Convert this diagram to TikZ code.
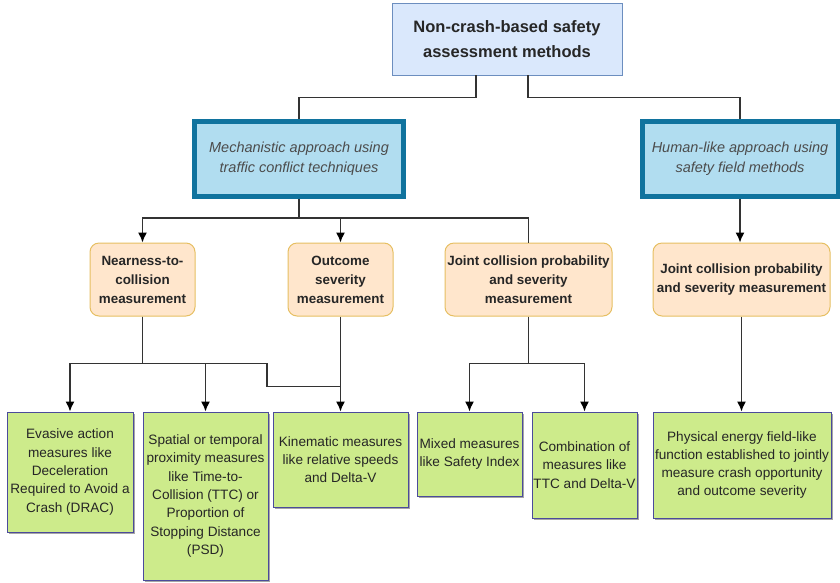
\documentclass[tikz,border=0pt]{standalone}
\usepackage{fontspec}
\setmainfont{Liberation Sans}
\usepackage{xcolor}
\usetikzlibrary{arrows.meta,shadows}

\definecolor{topfill}{HTML}{DAE8FC}
\definecolor{topline}{HTML}{6C8EBF}
\definecolor{appfill}{HTML}{B1DDF0}
\definecolor{appline}{HTML}{10739E}
\definecolor{measfill}{HTML}{FFE6CC}
\definecolor{measline}{HTML}{E6BF62}
\definecolor{leaffill}{HTML}{CDEB8B}
\definecolor{leafline}{HTML}{4B4B9B}
\definecolor{wirecol}{HTML}{333333}
\definecolor{ink}{HTML}{262626}

\begin{document}
\begin{tikzpicture}[x=1pt, y=-1pt,
        root/.style={draw=topline, fill=topfill, line width=0.8pt, minimum width=230pt, minimum height=72pt, align=center, text=ink, font=\bfseries\fontsize{16.5}{25}\selectfont},
        approach/.style={draw=appline, fill=appfill, line width=5pt, minimum height=75pt, align=center, text=black!70, font=\itshape\fontsize{14.5}{20}\selectfont},
        measure/.style={draw=measline, fill=measfill, line width=1pt, rounded corners=9pt, minimum height=73pt, inner sep=1pt, align=center, text=ink, font=\bfseries\fontsize{13.4}{19}\selectfont},
        leaf/.style={draw=leafline, fill=leaffill, line width=1pt, drop shadow={shadow xshift=1.5pt, shadow yshift=-1.5pt, opacity=0.35, fill=black}, inner sep=1pt, align=center, text=ink, font=\fontsize{13.6}{18.3}\selectfont},
        wire/.style={draw=wirecol, line width=1.4pt},
        arr/.style={wire, -{Latex[length=10pt, width=9pt, color=black]}}]
        \useasboundingbox (0,0) rectangle (840,582);

        \node[root] (root) at (507,39) {Non-crash-based safety\\assessment methods};
        \node[approach, minimum width=209pt] (mech) at (299,159) {Mechanistic approach using\\traffic conflict techniques};
        \node[approach, minimum width=196pt] (human) at (740,159) {Human-like approach using\\safety field methods};

        \node[measure, minimum width=105pt] (near) at (142.5,279.5) {Nearness-to-\\collision\\measurement};
        \node[measure, minimum width=105pt] (outc) at (340.5,279.5) {Outcome\\severity\\measurement};
        \node[measure, minimum width=167pt] (jcp) at (528.5,279.5) {Joint collision probability\\and severity\\measurement};
        \node[measure, minimum width=177pt] (jcph) at (741.5,279.5) {Joint collision probability\\and severity measurement};

        \node[leaf, minimum width=126pt, minimum height=120pt] (evas) at (70,472) {Evasive action\\measures like\\Deceleration\\Required to Avoid a\\Crash (DRAC)};
        \node[leaf, minimum width=125pt, minimum height=168pt] (spat) at (205.5,496) {Spatial or temporal\\proximity measures\\like Time-to-\\Collision (TTC) or\\Proportion of\\Stopping Distance\\(PSD)};
        \node[leaf, minimum width=135pt, minimum height=95pt] (kine) at (340.5,459.5) {Kinematic measures\\like relative speeds\\and Delta-V};
        \node[leaf, minimum width=105pt, minimum height=84pt] (mixd) at (469.5,454) {Mixed measures\\like Safety Index};
        \node[leaf, minimum width=105pt, minimum height=106pt] (comb) at (584.5,465) {Combination of\\measures like\\TTC and Delta-V};
        \node[leaf, minimum width=178pt, minimum height=106pt] (phys) at (742,465) {Physical energy field-like\\function established to jointly\\measure crash opportunity\\and outcome severity};

        \draw[wire] ([xshift=-31pt]root.south) -- ++(0,-22pt) -| (mech.north);
        \draw[wire] ([xshift=21pt]root.south) -- ++(0,-22pt) -| (human.north);
        \draw[arr] (mech.south) -- ++(0,-19pt) -| (near.north);
        \draw[arr] (mech.south) -- ++(0,-19pt) -| (outc.north);
        \draw[wire] (mech.south) -- ++(0,-19pt) -| (jcp.north);
        \draw[arr] (human.south) -- (human.south |- jcph.north);
        \draw[arr] (near.south) -- ++(0,-47pt) -| (evas.north);
        \draw[arr] (near.south) -- ++(0,-47pt) -| (spat.north);
        \draw[wire] (near.south) -- ++(0,-47pt) -- ++(124.5pt,0) |- ([yshift=25pt]kine.north);
        \draw[arr] (outc.south) -- (outc.south |- kine.north);
        \draw[arr] (jcp.south) -- ++(0,-47pt) -| (mixd.north);
        \draw[arr] (jcp.south) -- ++(0,-47pt) -| (comb.north);
        \draw[arr] (jcph.south) -- (jcph.south |- phys.north);
    \end{tikzpicture}
\end{document}
